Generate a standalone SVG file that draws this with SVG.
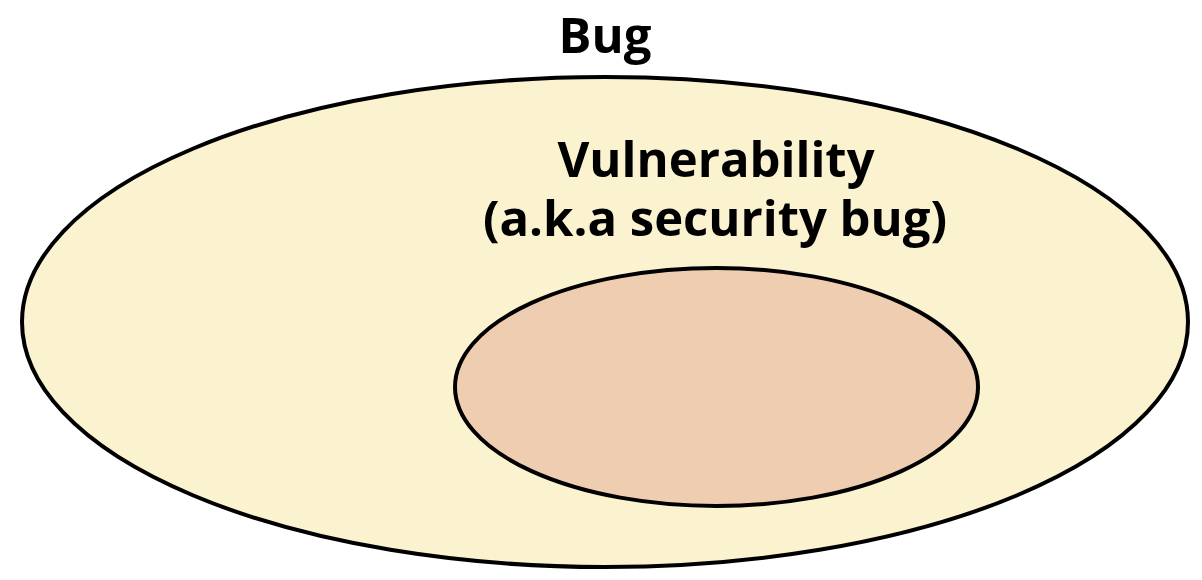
<svg xmlns="http://www.w3.org/2000/svg" width="1202" height="580" viewBox="0 0 1202 580">
<style>
.lbl{font-family:"Open Sans","Noto Sans","DejaVu Sans",sans-serif;font-weight:bold;font-size:49px;fill:#000;text-anchor:middle}
.sh{stroke:#000;stroke-width:4}
</style>
<rect width="1202" height="580" fill="#fff"/>
<g id="bug">
<ellipse class="sh" cx="605" cy="322" rx="583" ry="245" fill="#FBF2D0"/>
<text class="lbl" x="605" y="53">Bug</text>
</g>
<g id="vulnerability">
<ellipse class="sh" cx="716.5" cy="387" rx="261.5" ry="119" fill="#EFCDB1"/>
<text class="lbl" x="716" y="177">Vulnerability</text>
<text class="lbl" x="715" y="236">(a.k.a security bug)</text>
</g>
<g id="connectors"/>
</svg>
